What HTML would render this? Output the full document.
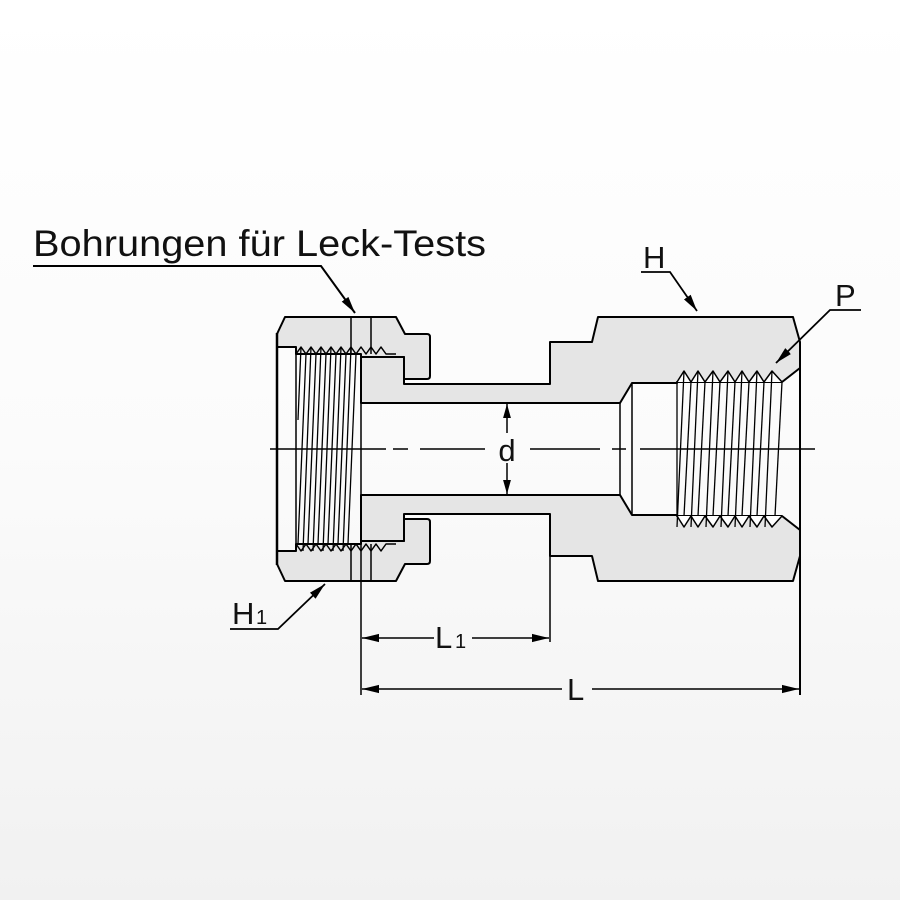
<!DOCTYPE html>
<html><head><meta charset="utf-8"><style>
html,body{margin:0;padding:0;}
body{width:900px;height:900px;background:linear-gradient(#ffffff 0%,#fbfbfb 50%,#f1f1f1 100%);}
svg{display:block}
text{font-family:"Liberation Sans",sans-serif;fill:#111;}
</style></head><body>
<svg width="900" height="900" viewBox="0 0 900 900" xmlns="http://www.w3.org/2000/svg">
<defs>
<marker id="a" viewBox="0 0 10 10" refX="10" refY="5" markerWidth="14" markerHeight="14" orient="auto-start-reverse" markerUnits="userSpaceOnUse"><path d="M0,2.2 L10,5 L0,7.8 z" fill="#000"/></marker>
<marker id="b" viewBox="0 0 10 10" refX="10" refY="5" markerWidth="17" markerHeight="17" orient="auto-start-reverse" markerUnits="userSpaceOnUse"><path d="M0,2.6 L10,5 L0,7.4 z" fill="#000"/></marker>
<g id="half" stroke="#000" stroke-width="2" stroke-linejoin="round">
 <path d="M277,334 L285,317 L396,317 L405,334 L427,334 Q430,334 430,337 L430,376 Q430,379 427,379 L404,379 L404,357 L361,357 L361,354 L296,354 L296,347 L277,347 Z" fill="#e5e5e5"/>
 <path d="M361,357 L404,357 L404,384 L550,384 L550,342 L592,342 L598,317 L793,317 L800,342 L800,368 L782,382 L677,382 L677,383 L632,383 L620,403 L361,403 Z" fill="#e5e5e5"/>
 <path d="M296,354 L301,347 L306,354 L311,347 L316,354 L321,347 L326,354 L331,347 L336,354 L341,347 L346,354 L351,347 L356,354 L361,347 L366,354 L371,347 L376,354 L381,347 L386,354 L396,354" fill="none" stroke-width="1.5"/>
 <path d="M677,382 L684,371 L691,382 L698,371 L705,382 L713,371 L720,382 L728,371 L735,382 L742,371 L749,382 L757,371 L764,382 L772,371 L782,382" fill="#fff" stroke-width="1.5"/>
 <line x1="351" y1="317" x2="351" y2="354" stroke-width="1.5"/>
 <line x1="371" y1="317" x2="371" y2="354" stroke-width="1.5"/>
</g>
</defs>
<use href="#half"/>
<use href="#half" transform="matrix(1,0,0,-1,0,898)"/>
<g stroke="#000" fill="none">
 <line x1="277" y1="333" x2="277" y2="565" stroke-width="2.5"/>
 <line x1="296" y1="347" x2="296" y2="551" stroke-width="1.5"/>
 <line x1="361" y1="354" x2="361" y2="695" stroke-width="1.5"/>
 <g stroke-width="1.3">
  <line x1="306" y1="354" x2="298" y2="544"/><line x1="316" y1="354" x2="308" y2="544"/>
  <line x1="326" y1="354" x2="318" y2="544"/><line x1="336" y1="354" x2="328" y2="544"/>
  <line x1="346" y1="354" x2="338" y2="544"/><line x1="356" y1="354" x2="348" y2="544"/>
  <line x1="311" y1="347" x2="303" y2="551"/><line x1="321" y1="347" x2="313" y2="551"/>
  <line x1="331" y1="347" x2="323" y2="551"/><line x1="341" y1="347" x2="333" y2="551"/>
  <line x1="351" y1="347" x2="343" y2="551"/><line x1="301" y1="347" x2="298" y2="420"/>
 </g>
 <g stroke-width="1.3">
  <line x1="677" y1="382" x2="677" y2="516"/>
  <line x1="684" y1="371" x2="677" y2="527"/><line x1="691" y1="382" x2="684" y2="516"/>
  <line x1="698" y1="371" x2="691" y2="527"/><line x1="705" y1="382" x2="698" y2="516"/>
  <line x1="713" y1="371" x2="706" y2="527"/><line x1="720" y1="382" x2="713" y2="516"/>
  <line x1="728" y1="371" x2="721" y2="527"/><line x1="735" y1="382" x2="728" y2="516"/>
  <line x1="742" y1="371" x2="735" y2="527"/><line x1="749" y1="382" x2="742" y2="516"/>
  <line x1="757" y1="371" x2="750" y2="527"/><line x1="764" y1="382" x2="757" y2="516"/>
  <line x1="772" y1="371" x2="765" y2="527"/><line x1="782" y1="382" x2="775" y2="516"/>
 </g>
 <line x1="632" y1="383" x2="632" y2="515" stroke-width="1.5"/>
 <line x1="620" y1="403" x2="620" y2="495" stroke-width="1.5"/>
 <line x1="800" y1="342" x2="800" y2="695" stroke-width="2"/>
 <line x1="550" y1="556" x2="550" y2="642" stroke-width="1.5"/>
 <path d="M270,449 H386 M393,449 H408 M420,449 H485 M530,449 H600 M612,449 H626 M640,449 H815" stroke-width="1.5"/>
 <line x1="507" y1="404" x2="507" y2="494" stroke-width="1.5" marker-start="url(#a)" marker-end="url(#a)"/>
 <line x1="362" y1="638" x2="434" y2="638" stroke-width="1.5" marker-start="url(#b)"/>
 <line x1="472" y1="638" x2="549" y2="638" stroke-width="1.5" marker-end="url(#b)"/>
 <line x1="362" y1="689" x2="562" y2="689" stroke-width="1.5" marker-start="url(#b)"/>
 <line x1="592" y1="689" x2="799" y2="689" stroke-width="1.5" marker-end="url(#b)"/>
 <polyline points="33,266 321,266 355,313" stroke-width="2" marker-end="url(#b)"/>
 <polyline points="641,272 670,272 697,311" stroke-width="1.8" marker-end="url(#b)"/>
 <polyline points="861,310 830,310 776,363" stroke-width="1.8" marker-end="url(#b)"/>
 <polyline points="230,629 278,629 325,584" stroke-width="1.8" marker-end="url(#b)"/>
</g>
<rect x="495" y="433" width="24" height="30" fill="#fbfbfb"/>
<text x="507" y="461" font-size="31" text-anchor="middle">d</text>
<text x="33" y="256" font-size="37" textLength="453" lengthAdjust="spacingAndGlyphs" style="font-weight:300">Bohrungen für Leck-Tests</text>
<text x="643" y="268" font-size="31">H</text>
<text x="835" y="306" font-size="31">P</text>
<text x="232" y="624" font-size="31">H</text><text x="256" y="624" font-size="20">1</text>
<text x="435" y="648" font-size="31">L</text><text x="455" y="648" font-size="20">1</text>
<text x="567" y="700" font-size="31">L</text>
</svg>
</body></html>
